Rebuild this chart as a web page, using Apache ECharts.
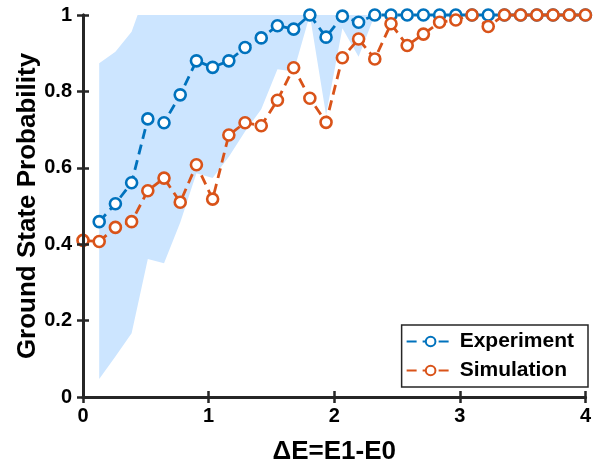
<!DOCTYPE html>
<html>
<head>
<meta charset="utf-8">
<script src="https://cdn.jsdelivr.net/npm/echarts@6/dist/echarts.min.js"></script>
<style>
  html, body { margin: 0; padding: 0; background: #fff; }
  #main { width: 594px; height: 470px; }
</style>
</head>
<body>
<div id="main"></div>
<script>
// ΔE 取值（横坐标）
var energy = [0, 0.129, 0.258, 0.387, 0.516, 0.645, 0.774, 0.903, 1.032, 1.161, 1.290,
  1.419, 1.548, 1.677, 1.806, 1.935, 2.065, 2.194, 2.323, 2.452, 2.581, 2.710,
  2.839, 2.968, 3.097, 3.226, 3.355, 3.484, 3.613, 3.742, 3.871, 4];

// 实验数据
var experiment = [null, 0.459, 0.506, 0.561, 0.728, 0.718, 0.791, 0.880, 0.863, 0.880, 0.915,
  0.940, 0.972, 0.963, 1.0, 0.942, 0.997, 0.981, 1.0, 1.0, 1.0, 1.0,
  1.0, 1.0, 1.0, 1.0, 1.0, 1.0, 1.0, 1.0, 1.0, 1.0];

// 模拟数据
var simulation = [0.410, 0.407, 0.444, 0.459, 0.540, 0.573, 0.510, 0.608, 0.518, 0.686, 0.718,
  0.710, 0.777, 0.862, 0.782, 0.719, 0.888, 0.937, 0.885, 0.977, 0.920, 0.950,
  0.981, 0.987, 1.0, 0.970, 1.0, 1.0, 1.0, 1.0, 1.0, 1.0];

// 实验误差带 上下界
var bandLower = [null, 0.047, 0.106, 0.167, 0.361, 0.350, 0.457, 0.586, 0.573, 0.629, 0.695,
  0.753, 0.858, 0.852, 1.0, 0.738, 0.965, 0.891, 1.0, 1.0, 1.0, 1.0,
  1.0, 1.0, 1.0, 1.0, 1.0, 1.0, 1.0, 1.0, 1.0, 1.0];
var bandUpper = [null, 0.874, 0.904, 0.956, 1.075, 1.0, 1.0, 1.0, 1.0, 1.0, 1.0,
  1.0, 1.0, 1.0, 1.0, 1.0, 1.0, 1.0, 1.0, 1.0, 1.0, 1.0,
  1.0, 1.0, 1.0, 1.0, 1.0, 1.0, 1.0, 1.0, 1.0, 1.0];

var xTicks = [0, 1, 2, 3, 4];
var yTicks = [0, 0.2, 0.4, 0.6, 0.8, 1];

;(function () {
  var myChart = echarts.init(document.getElementById('main'));

  var font = '"Liberation Sans", Arial, Helvetica, sans-serif';
  var axisColor = '#262626';

  function pairs(ys) {
    return energy.map(function (x, i) {
      return [x, ys[i]];
    });
  }

  var tickStyle = { inside: true, length: 6, lineStyle: { color: axisColor, width: 2.5 } };
  var lineAxis = { lineStyle: { color: axisColor, width: 3 } };

  var option = {
    animation: false,
    grid: { left: 83, right: 2, top: 15, bottom: 72 },
    xAxis: [
      {
        type: 'value', min: xTicks[0], max: xTicks[xTicks.length - 1], interval: 1,
        z: 10,
        axisLine: lineAxis, axisTick: tickStyle, splitLine: { show: false },
        axisLabel: { color: '#000', fontSize: 20, fontWeight: 'bold', fontFamily: font, margin: 9 },
        name: 'ΔE=E1-E0', nameLocation: 'middle', nameGap: 42, nameMoveOverlap: false,
        nameTextStyle: { color: '#000', fontSize: 26, fontWeight: 'bold', fontFamily: font }
      },
      {
        type: 'value', position: 'top', min: 0, max: 4, interval: 1, z: 10,
        axisLine: lineAxis, axisTick: tickStyle, axisLabel: { show: false }, splitLine: { show: false }
      }
    ],
    yAxis: [
      {
        type: 'value', min: yTicks[0], max: yTicks[yTicks.length - 1], interval: 0.2,
        z: 10,
        axisLine: lineAxis, axisTick: tickStyle, splitLine: { show: false },
        axisLabel: { color: '#000', fontSize: 20, fontWeight: 'bold', fontFamily: font, margin: 11 },
        name: 'Ground State Probability', nameLocation: 'middle', nameGap: 42, nameRotate: 90,
        nameMoveOverlap: false,
        nameTextStyle: { color: '#000', fontSize: 26, fontWeight: 'bold', fontFamily: font }
      },
      {
        type: 'value', position: 'right', min: 0, max: 1, interval: 0.2, z: 10,
        axisLine: lineAxis, axisTick: tickStyle, axisLabel: { show: false }, splitLine: { show: false }
      }
    ],
    legend: {
      orient: 'vertical', right: 6, bottom: 83,
      data: ['Experiment', 'Simulation'],
      backgroundColor: '#fff', borderColor: axisColor, borderWidth: 1.5,
      padding: [6, 14, 6, 4], itemGap: 8, itemWidth: 48, itemHeight: 12,
      textStyle: { color: '#000', fontSize: 21, fontWeight: 'bold', fontFamily: font },
      z: 20
    },
    series: [
      {
        // 误差带：用坐标轴换算出多边形
        name: 'band', type: 'custom', data: [0], clip: true, silent: true, z: 1,
        renderItem: function (params, api) {
          var pts = [];
          var i;
          for (i = 0; i < energy.length; i++) {
            if (bandUpper[i] != null) pts.push(api.coord([energy[i], bandUpper[i]]));
          }
          for (i = energy.length - 1; i >= 0; i--) {
            if (bandLower[i] != null) pts.push(api.coord([energy[i], bandLower[i]]));
          }
          return { type: 'polygon', shape: { points: pts }, style: { fill: '#cce5ff' } };
        }
      },
      {
        name: 'Experiment', type: 'line', data: pairs(experiment), clip: false,
        symbol: 'circle', symbolSize: 11, showAllSymbol: true, z: 3,
        lineStyle: { color: '#0072bd', width: 2.8, type: [10, 6] },
        itemStyle: { color: '#fff', borderColor: '#0072bd', borderWidth: 2.6 }
      },
      {
        name: 'Simulation', type: 'line', data: pairs(simulation), clip: false,
        symbol: 'circle', symbolSize: 11, showAllSymbol: true, z: 4,
        lineStyle: { color: '#d95319', width: 2.8, type: [10, 6] },
        itemStyle: { color: '#fff', borderColor: '#d95319', borderWidth: 2.6 }
      }
    ]
  };

  myChart.setOption(option);
  window.addEventListener('resize', function () {
    myChart.resize();
  });
})();
</script>
</body>
</html>
